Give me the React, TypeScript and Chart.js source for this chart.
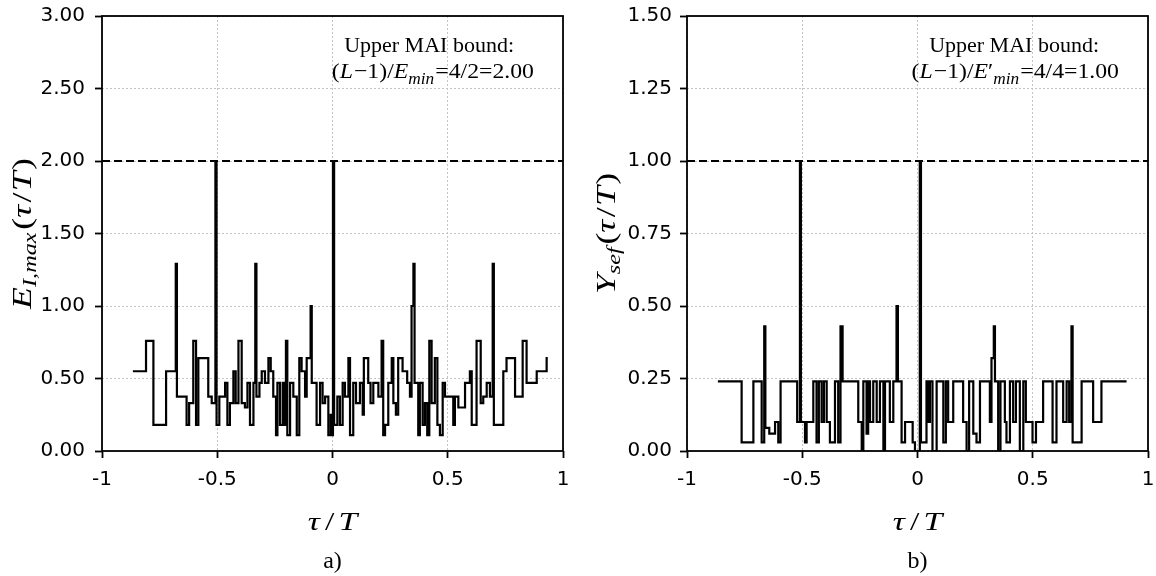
import React, { useEffect, useRef } from "react";
import { Chart, registerables } from "chart.js";

Chart.register(...registerables);

// ---------- axis ticks ----------
const xTickValues = [-1, -0.5, 0, 0.5, 1];
const xTickLabels = ["-1", "-0.5", "0", "0.5", "1"];
const leftYTickValues = [0, 0.5, 1, 1.5, 2, 2.5, 3];
const leftYTickLabels = ["0.00", "0.50", "1.00", "1.50", "2.00", "2.50", "3.00"];
const rightYTickValues = [0, 0.25, 0.5, 0.75, 1, 1.25, 1.5];
const rightYTickLabels = ["0.00", "0.25", "0.50", "0.75", "1.00", "1.25", "1.50"];

// ---------- bounds (dashed lines) ----------
const leftBound = 2.0;
const rightBound = 1.0;

// ---------- panel a) E_I,max step function: value holds from tau[i] to tau[i+1] ----------
const leftTau = [
  -0.866, -0.809, -0.777, -0.722, -0.68, -0.675, -0.633, -0.622, -0.604, -0.592,
  -0.582, -0.539, -0.524, -0.508, -0.503, -0.491, -0.466, -0.456, -0.445, -0.43,
  -0.42, -0.408, -0.394, -0.38, -0.369, -0.358, -0.343, -0.335, -0.33, -0.317,
  -0.307, -0.293, -0.278, -0.268, -0.257, -0.245, -0.239, -0.228, -0.216, -0.21,
  -0.202, -0.196, -0.184, -0.17, -0.155, -0.144, -0.134, -0.119, -0.112, -0.095,
  -0.09, -0.069, -0.054, -0.043, -0.032, -0.018, -0.008, -0.003, 0.002, 0.007,
  0.021, 0.032, 0.044, 0.054, 0.069, 0.076, 0.09, 0.102, 0.119, 0.131,
  0.136, 0.155, 0.165, 0.177, 0.199, 0.213, 0.22, 0.228, 0.242, 0.257,
  0.264, 0.275, 0.285, 0.304, 0.324, 0.336, 0.343, 0.351, 0.356, 0.372,
  0.379, 0.391, 0.401, 0.411, 0.42, 0.43, 0.444, 0.455, 0.466, 0.478,
  0.488, 0.524, 0.531, 0.546, 0.575, 0.596, 0.604, 0.625, 0.643, 0.654,
  0.669, 0.683, 0.695, 0.7, 0.741, 0.755, 0.792, 0.825, 0.842, 0.886,
  0.929,
];
const leftVal = [
  0.55, 0.76, 0.18, 0.55, 1.29, 0.375, 0.18, 0.33, 0.76, 0.18,
  0.64, 0.375, 0.33, 2.0, 0.18, 0.375, 0.47, 0.18, 0.33, 0.55,
  0.33, 0.76, 0.33, 0.3, 0.47, 0.18, 0.47, 1.29, 0.375, 0.47,
  0.55, 0.47, 0.64, 0.55, 0.375, 0.11, 0.47, 0.18, 0.47, 0.18,
  0.76, 0.11, 0.47, 0.375, 0.11, 0.64, 0.55, 0.375, 0.64, 1.0,
  0.47, 0.18, 0.47, 0.33, 0.375, 0.11, 0.25, 0.11, 2.0, 0.18,
  0.375, 0.18, 0.47, 0.375, 0.64, 0.11, 0.47, 0.33, 0.47, 0.25,
  0.64, 0.47, 0.33, 0.47, 0.375, 0.76, 0.11, 0.18, 0.47, 0.64,
  0.33, 0.25, 0.64, 0.55, 0.47, 0.375, 1.0, 1.29, 0.47, 0.11,
  0.47, 0.18, 0.33, 0.11, 0.76, 0.33, 0.64, 0.18, 0.11, 0.47,
  0.375, 0.18, 0.375, 0.3, 0.47, 0.55, 0.18, 0.76, 0.33, 0.375,
  0.47, 0.375, 1.29, 0.18, 0.55, 0.64, 0.375, 0.76, 0.47, 0.55,
  0.64,
];
const leftTauEnd = 0.934;

// ---------- panel b) Y_sef step function ----------
const rightTau = [
  -0.866, -0.763, -0.712, -0.676, -0.665, -0.66, -0.643, -0.618, -0.604, -0.594,
  -0.522, -0.51, -0.506, -0.488, -0.481, -0.452, -0.438, -0.428, -0.416, -0.406,
  -0.394, -0.38, -0.358, -0.344, -0.334, -0.325, -0.257, -0.242, -0.235, -0.221,
  -0.214, -0.206, -0.192, -0.177, -0.163, -0.148, -0.141, -0.12, -0.105, -0.091,
  -0.085, -0.069, -0.054, -0.021, -0.011, 0.01, 0.015, 0.039, 0.047, 0.054,
  0.065, 0.083, 0.112, 0.123, 0.133, 0.155, 0.198, 0.213, 0.224, 0.242,
  0.256, 0.271, 0.314, 0.321, 0.331, 0.336, 0.35, 0.36, 0.379, 0.386,
  0.401, 0.415, 0.427, 0.444, 0.459, 0.47, 0.499, 0.514, 0.545, 0.586,
  0.603, 0.632, 0.647, 0.658, 0.668, 0.673, 0.712, 0.762, 0.798,
];
const rightVal = [
  0.24, 0.03, 0.24, 0.03, 0.43, 0.08, 0.06, 0.1, 0.03, 0.24,
  0.1, 1.0, 0.1, 0.03, 0.1, 0.24, 0.03, 0.24, 0.1, 0.24,
  0.1, 0.03, 0.24, 0.03, 0.43, 0.24, 0.1, 0.0, 0.24, 0.06,
  0.24, 0.1, 0.24, 0.1, 0.24, 0.0, 0.24, 0.1, 0.24, 0.5,
  0.24, 0.03, 0.1, 0.03, 0.0, 1.0, 0.03, 0.24, 0.1, 0.24,
  0.0, 0.24, 0.03, 0.24, 0.1, 0.24, 0.1, 0.0, 0.24, 0.06,
  0.03, 0.24, 0.1, 0.32, 0.43, 0.24, 0.0, 0.24, 0.1, 0.03,
  0.24, 0.1, 0.24, 0.0, 0.24, 0.1, 0.03, 0.1, 0.24, 0.03,
  0.24, 0.1, 0.24, 0.1, 0.43, 0.03, 0.24, 0.1, 0.24,
];
const rightTauEnd = 0.907;

// ---------- text helpers ----------
const SERIF = '"Liberation Serif", "Times New Roman", serif';
const SANS = '"DejaVu Sans", sans-serif';

type Part = { t: string; s: number; i?: boolean; dy?: number; g?: number };

function partFont(p: Part) {
  return `${p.i ? "italic " : ""}${p.s}px ${SERIF}`;
}

function drawParts(
  ctx: CanvasRenderingContext2D,
  parts: Part[],
  x: number,
  y: number,
  align: string,
  k: number = 1
) {
  let w = 0;
  for (const p of parts) {
    ctx.font = partFont(p);
    w += ctx.measureText(p.t).width + (p.g || 0);
  }
  const W = w * k;
  const start = align === "left" ? x : align === "center" ? x - W / 2 : x - W;
  ctx.save();
  ctx.translate(start, y);
  ctx.scale(k, 1);
  ctx.textAlign = "left";
  let cx = 0;
  for (const p of parts) {
    ctx.font = partFont(p);
    ctx.fillText(p.t, cx, p.dy || 0);
    cx += ctx.measureText(p.t).width + (p.g || 0);
  }
  ctx.restore();
}

const tauOverT: Part[] = [
  { t: "τ", s: 26, i: true, g: 4 },
  { t: "/", s: 26, g: 3 },
  { t: "T", s: 26, i: true },
];

const panelTextPlugin = {
  id: "panelText",
  afterDraw(chart: any, _args: any, opts: any) {
    const { ctx, chartArea: a } = chart;
    ctx.save();
    ctx.setLineDash([]);
    ctx.strokeStyle = "#000";
    ctx.lineWidth = 1.8;
    ctx.strokeRect(a.left, a.top, a.right - a.left, a.bottom - a.top);
    ctx.fillStyle = "#000";
    ctx.textBaseline = "alphabetic";
    const cx = (a.left + a.right) / 2;
    drawParts(ctx, tauOverT, cx, 530, "center", 1.3);
    ctx.font = `24px ${SERIF}`;
    ctx.textAlign = "center";
    ctx.fillText(opts.caption, cx, 568);
    ctx.font = `22px ${SERIF}`;
    ctx.textAlign = "right";
    ctx.fillText(opts.note1, a.right - 49, a.top + 36);
    drawParts(ctx, opts.note2, a.right - 29, a.top + 62, "right", 1.08);
    ctx.translate(opts.yTitleX, (a.top + a.bottom) / 2);
    ctx.rotate(-Math.PI / 2);
    drawParts(ctx, opts.yTitle, 0, 0, "center", 1.28);
    ctx.restore();
  },
};

interface PanelProps {
  left: number;
  tau: number[];
  val: number[];
  tauEnd: number;
  bound: number;
  yTicks: number[];
  yLabels: string[];
  yTitle: Part[];
  note1: string;
  note2: Part[];
  caption: string;
  axisWidth: number;
  rightPad: number;
  tickPad: number;
  yTitleX: number;
}

function Panel(props: PanelProps) {
  const ref = useRef<HTMLCanvasElement>(null);
  useEffect(() => {
    const canvas = ref.current;
    if (!canvas) return;
    const points = props.tau.map((t, i) => ({ x: t, y: props.val[i] }));
    points.push({ x: props.tauEnd, y: props.val[props.val.length - 1] });
    const xMin = xTickValues[0];
    const xMax = xTickValues[xTickValues.length - 1];
    const yMin = props.yTicks[0];
    const yMax = props.yTicks[props.yTicks.length - 1];
    const gridCommon = {
      color: "#c4c4c4",
      lineWidth: 1,
      borderDash: [2, 2],
      tickColor: "#000",
      tickWidth: 1.8,
      tickLength: 7,
      tickBorderDash: [],
    };
    const chart = new Chart(canvas, {
      type: "line",
      data: {
        datasets: [
          {
            data: points,
            stepped: "before",
            borderColor: "#000",
            borderWidth: 2.2,
            pointRadius: 0,
            fill: false,
          },
          {
            data: [
              { x: xMin, y: props.bound },
              { x: xMax, y: props.bound },
            ],
            borderColor: "#000",
            borderWidth: 2,
            borderDash: [8, 4],
            pointRadius: 0,
            fill: false,
          },
        ],
      },
      options: {
        responsive: false,
        animation: false,
        devicePixelRatio: 1,
        layout: { padding: { left: 0, top: 16, right: props.rightPad, bottom: 0 } },
        plugins: {
          legend: { display: false },
          tooltip: { enabled: false },
          panelText: {
            caption: props.caption,
            note1: props.note1,
            note2: props.note2,
            yTitle: props.yTitle,
            yTitleX: props.yTitleX,
          },
        } as any,
        scales: {
          x: {
            type: "linear",
            min: xMin,
            max: xMax,
            afterBuildTicks: (s: any) => {
              s.ticks = xTickValues.map((v) => ({ value: v }));
            },
            afterFit: (s: any) => {
              s.height = 125;
              s.paddingLeft = 0;
              s.paddingRight = 0;
              s.paddingTop = 0;
              s.paddingBottom = 0;
            },
            ticks: {
              font: { family: SANS, size: 20 },
              color: "#000",
              padding: 10,
              maxRotation: 0,
              autoSkip: false,
              callback: (v: any) => {
                const k = xTickValues.indexOf(Number(v));
                return k >= 0 ? xTickLabels[k] : "";
              },
            },
            grid: gridCommon as any,
            border: { display: false, dash: [2, 2] },
          },
          y: {
            type: "linear",
            min: yMin,
            max: yMax,
            afterBuildTicks: (s: any) => {
              s.ticks = props.yTicks.map((v) => ({ value: v }));
            },
            afterFit: (s: any) => {
              s.width = props.axisWidth;
              s.paddingLeft = 0;
              s.paddingRight = 0;
              s.paddingTop = 0;
              s.paddingBottom = 0;
            },
            ticks: {
              font: { family: SANS, size: 20 },
              color: "#000",
              padding: props.tickPad,
              autoSkip: false,
              callback: (v: any) => {
                const k = props.yTicks.indexOf(Number(v));
                return k >= 0 ? props.yLabels[k] : "";
              },
            },
            grid: gridCommon as any,
            border: { display: false, dash: [2, 2] },
          },
        },
      } as any,
      plugins: [panelTextPlugin],
    });
    return () => chart.destroy();
  }, []);
  return (
    <canvas
      ref={ref}
      width={578}
      height={576}
      style={{ position: "absolute", left: props.left, top: 0, width: 578, height: 576 }}
    />
  );
}

const leftYTitle: Part[] = [
  { t: "E", s: 28, i: true },
  { t: "I,max", s: 19, i: true, dy: 5, g: 2 },
  { t: "(", s: 28 },
  { t: "τ", s: 28, i: true, g: 2 },
  { t: "/", s: 28, g: 1 },
  { t: "T", s: 28, i: true, g: 1 },
  { t: ")", s: 28 },
];
const rightYTitle: Part[] = [
  { t: "Y", s: 28, i: true },
  { t: "sef", s: 19, i: true, dy: 5, g: 2 },
  { t: "(", s: 28 },
  { t: "τ", s: 28, i: true, g: 2 },
  { t: "/", s: 28, g: 1 },
  { t: "T", s: 28, i: true, g: 1 },
  { t: ")", s: 28 },
];
const leftNote2: Part[] = [
  { t: "(", s: 22 },
  { t: "L", s: 22, i: true, g: 1 },
  { t: "−1)/", s: 22 },
  { t: "E", s: 22, i: true },
  { t: "min", s: 16, i: true, dy: 6, g: 1 },
  { t: "=4/2=2.00", s: 22 },
];
const rightNote2: Part[] = [
  { t: "(", s: 22 },
  { t: "L", s: 22, i: true, g: 1 },
  { t: "−1)/", s: 22 },
  { t: "E", s: 22, i: true },
  { t: "′", s: 22 },
  { t: "min", s: 16, i: true, dy: 6, g: 1 },
  { t: "=4/4=1.00", s: 22 },
];

export default function App() {
  return (
    <div
      style={{
        position: "absolute",
        left: 0,
        top: 0,
        width: 1156,
        height: 576,
        background: "#fff",
        overflow: "hidden",
      }}
    >
      <Panel
        left={0}
        tau={leftTau}
        val={leftVal}
        tauEnd={leftTauEnd}
        bound={leftBound}
        yTicks={leftYTickValues}
        yLabels={leftYTickLabels}
        yTitle={leftYTitle}
        note1="Upper MAI bound:"
        note2={leftNote2}
        caption="a)"
        axisWidth={102}
        rightPad={15}
        tickPad={10}
        yTitleX={31}
      />
      <Panel
        left={578}
        tau={rightTau}
        val={rightVal}
        tauEnd={rightTauEnd}
        bound={rightBound}
        yTicks={rightYTickValues}
        yLabels={rightYTickLabels}
        yTitle={rightYTitle}
        note1="Upper MAI bound:"
        note2={rightNote2}
        caption="b)"
        axisWidth={109}
        rightPad={8}
        tickPad={8}
        yTitleX={37}
      />
    </div>
  );
}
